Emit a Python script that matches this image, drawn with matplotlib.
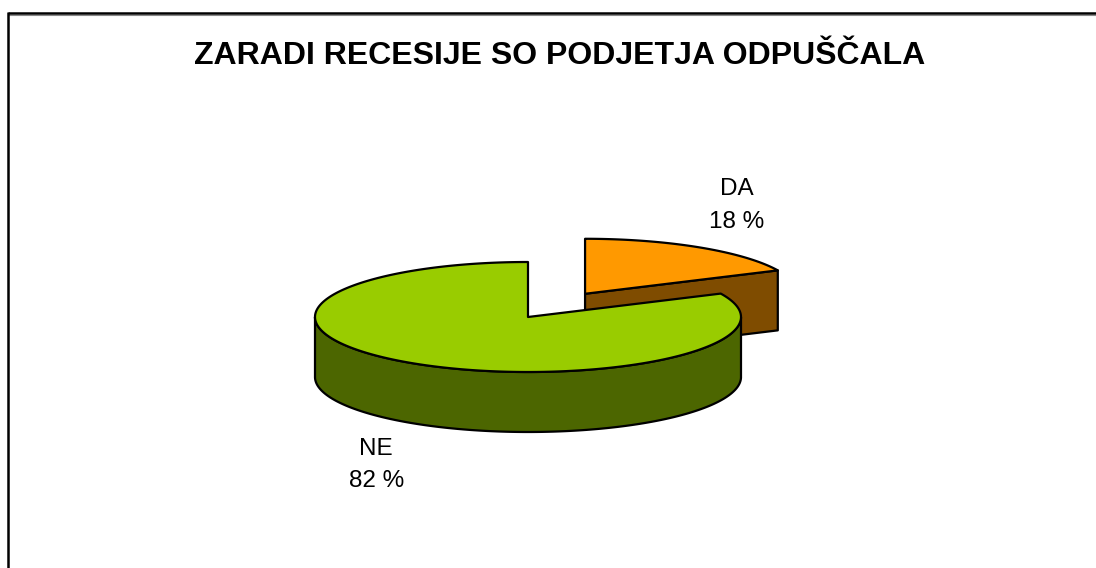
import numpy as np
import matplotlib.pyplot as plt

# ---------------- DATA ----------------
labels = ["DA", "NE"]
shares = [18, 82]
title = "ZARADI RECESIJE SO PODJETJA ODPUŠČALA"

top_colors = ["#FF9900", "#99CC00"]
side_colors = ["#7F4C00", "#4C6600"]
explode = [0.5, 0.0]

# pie layout (pixels on a full-figure axes)
cx, cy = 528, 317
a, b = 213, 55
depth = 60

plt.rcParams["font.family"] = ["Liberation Sans", "DejaVu Sans"]

fig = plt.figure(figsize=(10.96, 5.68), dpi=100)
ax = fig.add_axes([0, 0, 1, 1])
ax.set_xlim(0, 1096)
ax.set_ylim(568, 0)
ax.axis("off")


def ell(x0, y0, t):
    return x0 + a * np.cos(t), y0 - b * np.sin(t)


edge = dict(edgecolor="black", linewidth=1.6, joinstyle="round")

# start at 12 o'clock, go clockwise
fracs = np.array(shares) / sum(shares)
start = np.pi / 2
for i, f in enumerate(fracs):
    t2 = start
    t1 = start - f * 2 * np.pi
    start = t1
    mid = (t1 + t2) / 2
    x0 = cx + explode[i] * a * np.cos(mid)
    y0 = cy - explode[i] * b * np.sin(mid)

    # cut faces
    for t, vis in ((t1, np.cos(t1) > 1e-6), (t2, np.cos(t2) < -1e-6)):
        if vis:
            ex, ey = ell(x0, y0, t)
            ax.fill([x0, ex, ex, x0], [y0, ey, ey + depth, y0 + depth],
                    facecolor=side_colors[i], **edge, zorder=2 + i * 3)

    # curved front side (where sin < 0)
    tt = np.linspace(t1, t2, 600)
    front = np.sin(tt) < 0
    if front.any():
        idx = np.where(front)[0]
        segs = np.split(idx, np.where(np.diff(idx) > 1)[0] + 1)
        for s in segs:
            ts = tt[s]
            px, py = ell(x0, y0, ts)
            ax.fill(np.r_[px, px[::-1]], np.r_[py, py[::-1] + depth],
                    facecolor=side_colors[i], **edge, zorder=3 + i * 3)

    # top face
    px, py = ell(x0, y0, tt)
    ax.fill(np.r_[x0, px], np.r_[y0, py],
            facecolor=top_colors[i], **edge, zorder=4 + i * 3)

    # label
    lx = x0 + 1.33 * a * np.cos(mid)
    ly = y0 - 1.9 * b * np.sin(mid) + (depth if np.sin(mid) < 0 else 0)
    ax.text(lx, ly, f"{labels[i]}\n{shares[i]} %", ha="center", va="center",
            fontsize=17.5, linespacing=1.6, zorder=20)

# title
ax.text(560, 56, title, ha="center", va="center", fontsize=23,
        fontweight="bold")

# chart frame (cut off at right and bottom)
ax.plot([8, 1096], [15, 15], color="#888888", lw=0.8)
ax.plot([8, 1096], [13, 13], color="black", lw=1.8, solid_capstyle="butt")
ax.plot([8, 8], [12, 568], color="black", lw=1.8, solid_capstyle="butt")

fig.savefig("out.png", dpi=100)
